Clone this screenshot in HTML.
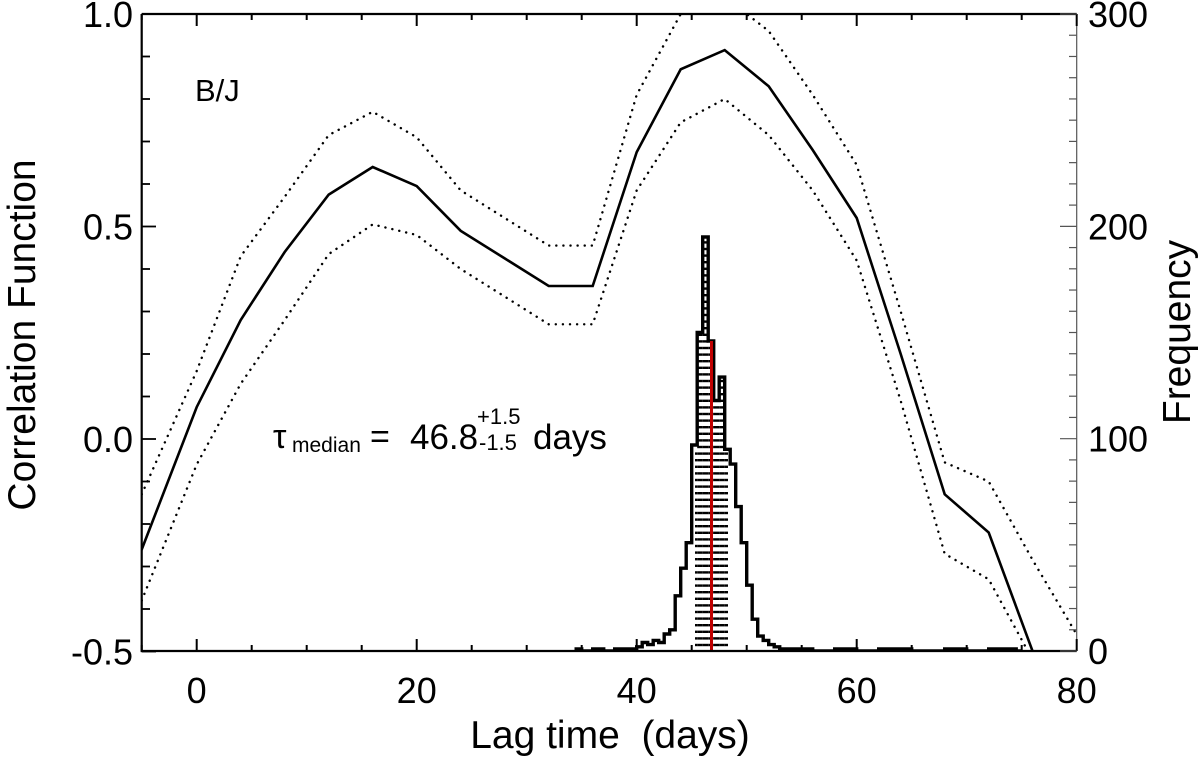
<!DOCTYPE html>
<html><head><meta charset="utf-8"><style>
html,body{margin:0;padding:0;background:#fff}
svg{display:block;font-family:"Liberation Sans",sans-serif}
</style></head><body>
<svg id="chart" width="1200" height="758" viewBox="0 0 1200 758">
<defs><clipPath id="plotclip"><rect x="141.7" y="14" width="935" height="637"/></clipPath></defs>
<g id="marks" clip-path="url(#plotclip)"></g>
<g id="axes"></g>
<text x="195" y="101" font-size="31">B/J</text>
<g>
<text x="273" y="448" font-size="34">τ</text>
<text x="292" y="452" font-size="21">median</text>
<text x="370" y="448" font-size="34">=</text>
<text x="410" y="449" font-size="35">46.8</text>
<text x="477" y="424" font-size="22">+1.5</text>
<text x="479" y="450" font-size="22">-1.5</text>
<text x="533" y="449" font-size="35">days</text>
</g>
<text x="610" y="748" font-size="39" text-anchor="middle" xml:space="preserve">Lag time  (days)</text>
<text transform="translate(35,335) rotate(-90)" font-size="39" text-anchor="middle">Correlation Function</text>
<text transform="translate(1190,332) rotate(-90)" font-size="39" text-anchor="middle">Frequency</text>
</svg>
<script>
const lags = [-5,0,4,8,12,16,20,24,28,32,36,40,44,48,52,56,60,64,68,72,76,80];
const ccf = [-0.26,0.075,0.28,0.44,0.575,0.64,0.595,0.49,0.425,0.36,0.36,0.675,0.87,0.915,0.83,0.68,0.52,0.2,-0.13,-0.22,-0.5,-0.78];
const ccfUpper = [-0.13,0.16,0.43,0.57,0.715,0.77,0.71,0.585,0.52,0.455,0.455,0.81,1.0,1.04,0.96,0.81,0.645,0.3,-0.055,-0.1,-0.285,-0.46];
const ccfLower = [-0.38,-0.06,0.13,0.28,0.435,0.505,0.48,0.4,0.335,0.27,0.27,0.585,0.745,0.8,0.715,0.585,0.42,0.09,-0.27,-0.33,-0.52,-0.75];
const binStarts = [34.5,35,36,37,38,39,40,40.5,41,41.5,42,42.5,43,43.5,44,44.5,45,45.5,46,46.5,47,47.5,48,48.5,49,49.5,50,50.5,51,51.5,52,52.5,53,54,56,58,60,62,65,68,70,72,74.5];
const binCounts = [1,0,1,0,1,1,2,4,3,5,4,8,10,26,39,51,97,150,195,146,118,129,95,88,68,51,31,15,7,5,3,2,1,1,0,1,0,1,0,1,0,1,0];
const binWidth = 0.5;
const medianLag = 46.8, errLo = 1.5, errHi = 1.5;
const xTicks = [0,20,40,60,80];
const yTicks = [-0.5,0.0,0.5,1.0];
const yTickLabels = ["-0.5","0.0","0.5","1.0"];
const y2Ticks = [0,100,200,300];

const NS = "http://www.w3.org/2000/svg";
const X = v => 196.7 + (v) * 11;
const Y = v => 439 - v * 425;
const Y2 = f => 651 - f * 2.1233;
function el(tag, attrs, parent){const e=document.createElementNS(NS,tag);for(const k in attrs)e.setAttribute(k,attrs[k]);parent.appendChild(e);return e;}
const marks = document.getElementById('marks');
const axes = document.getElementById('axes');

function line(vals, dash, name){
  const d = vals.map((v,i)=>(i?'L':'M')+X(lags[i]).toFixed(1)+','+Y(v).toFixed(1)).join(' ');
  const p = el('path',{d:d,fill:'none',stroke:'#000','stroke-width':dash?2.4:2.6,'stroke-dasharray':dash?'0.1,7':'none','stroke-linecap':'round'},marks);
  
  
}
line(ccfUpper,true,'ccf-upper-bound');
line(ccfLower,true,'ccf-lower-bound');
line(ccf,false,'ccf-line');

let hd = 'M'+X(binStarts[0]).toFixed(1)+','+Y2(0);
for(let i=0;i<binStarts.length;i++){
  const s=binStarts[i], e=(i+1<binStarts.length)?binStarts[i+1]:s+binWidth;
  hd += ' L'+X(s).toFixed(1)+','+Y2(binCounts[i]).toFixed(1)+' L'+X(e).toFixed(1)+','+Y2(binCounts[i]).toFixed(1);
}
hd += ' L'+X(binStarts[binStarts.length-1]+binWidth).toFixed(1)+','+Y2(0);
const lo = medianLag-errLo, hi = medianLag+errHi;
for(let i=0;i<binStarts.length;i++){
  const s=binStarts[i], e=(i+1<binStarts.length)?binStarts[i+1]:s+binWidth;
  const a=Math.max(s,lo), b=Math.min(e,hi);
  if(b<=a) continue;
  const top=Y2(binCounts[i]);
  for(let yy=645; yy>top+2; yy-=6.6){
    const h = el('line',{x1:X(a).toFixed(1),x2:X(b).toFixed(1),y1:yy.toFixed(1),y2:yy.toFixed(1),stroke:'#000','stroke-width':2.4},marks);
    
    
  }
}
const hist = el('path',{d:hd,fill:'none',stroke:'#000','stroke-width':3.4,'stroke-linejoin':'miter'},marks);


let medCount = 0;
for(let i=0;i<binStarts.length;i++){ if(medianLag>=binStarts[i] && (i+1>=binStarts.length || medianLag<binStarts[i+1])) medCount=binCounts[i]; }
const med = el('line',{x1:X(medianLag),x2:X(medianLag),y1:Y2(medCount),y2:651,stroke:'#c00000','stroke-width':3},marks);



const box = el('path',{d:'M141.7,14 L1076.7,14 M141.7,14 L141.7,651 L1076.7,651',fill:'none',stroke:'#000','stroke-width':2.2},axes);


const rax = el('line',{x1:1076.7,x2:1076.7,y1:14,y2:651,stroke:'#555','stroke-width':1.2},axes);


for(let v=-5; v<=80; v+=5){
  const major = v%20===0;
  el('line',{x1:X(v),x2:X(v),y1:651,y2:major?639:645,stroke:'#000','stroke-width':2},axes);
  el('line',{x1:X(v),x2:X(v),y1:14,y2:major?26:20,stroke:'#000','stroke-width':2},axes);
}
xTicks.forEach(v=>{
  const t = el('text',{x:X(v),y:703,'font-size':36,'text-anchor':'middle'},axes);
  t.textContent = String(v);
  
  
});
for(let k=-5;k<=10;k++){
  const v=k/10, major=(k%5===0);
  el('line',{x1:141.7,x2:major?156:150,y1:Y(v),y2:Y(v),stroke:'#000','stroke-width':1.8},axes);
}
yTicks.forEach((v,i)=>{
  const t = el('text',{x:133,y:Y(v)+13,'font-size':36,'text-anchor':'end'},axes);
  t.textContent = yTickLabels[i];
  
  
});
for(let f=0; f<=300; f+=10){
  const major=f%100===0;
  el('line',{x1:1076.7,x2:major?1060:1069,y1:Y2(f),y2:Y2(f),stroke:'#555','stroke-width':1.2},axes);
}
y2Ticks.forEach(v=>{
  const t = el('text',{x:1088,y:Y2(v)+13,'font-size':36,'text-anchor':'start'},axes);
  t.textContent = String(v);
  
  
});
</script>
</body></html>
